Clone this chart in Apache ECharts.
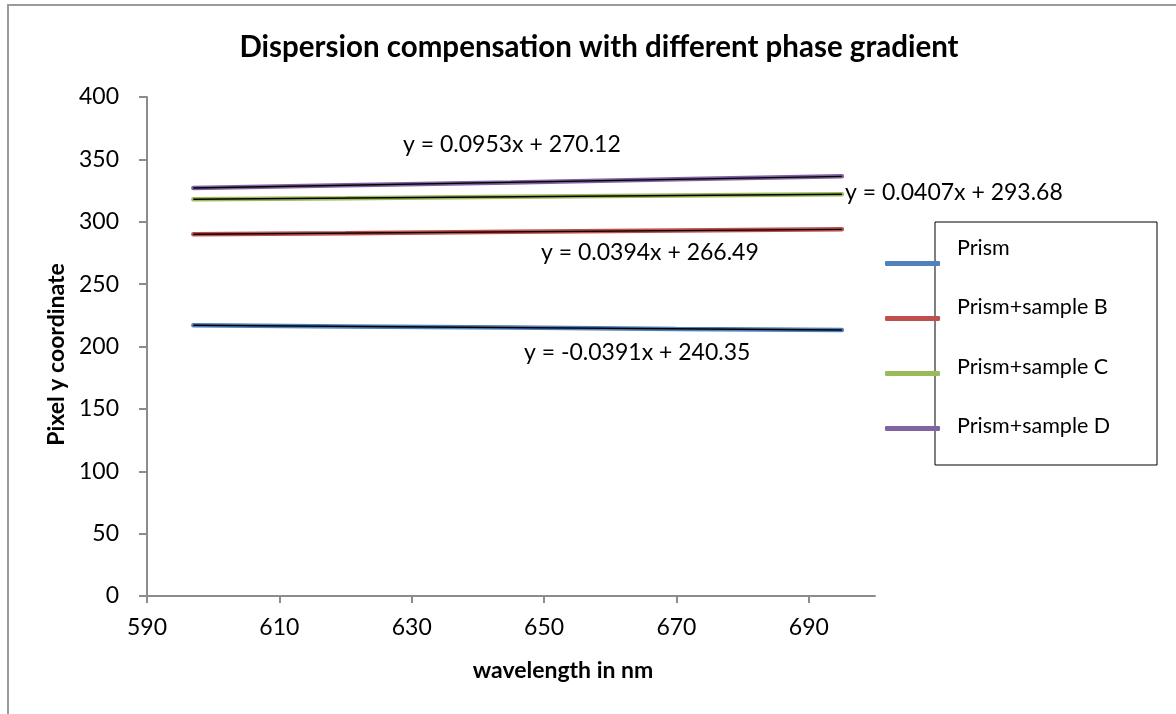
<!DOCTYPE html>
<html>
<head>
<meta charset="utf-8">
<script src="https://cdn.jsdelivr.net/npm/echarts@6/dist/echarts.min.js"></script>
<style>
html,body{margin:0;padding:0;background:#fff;}
#chart{width:1176px;height:714px;}
</style>
</head>
<body>
<div id="chart"></div>
<script>
// ---- data ----
const seriesNames = ['Prism', 'Prism+sample B', 'Prism+sample C', 'Prism+sample D'];
const wavelengths = [597, 620, 645, 670, 695];
const prismVals   = [217.0, 216.1, 215.2, 214.1, 213.2];
const sampleBVals = [290.0, 290.8, 291.9, 292.9, 293.9];
const sampleCVals = [318.0, 318.9, 320.0, 321.0, 322.0];
const sampleDVals = [327.0, 329.3, 331.5, 334.0, 336.4];
const trendX      = [597, 695];
const prismTrend   = [217.0, 213.2];
const sampleBTrend = [290.0, 293.9];
const sampleCTrend = [318.0, 322.0];
const sampleDTrend = [327.0, 336.4];
const equations = ['y = -0.0391x + 240.35', 'y = 0.0394x + 266.49', 'y = 0.0407x + 293.68', 'y = 0.0953x + 270.12'];
const xTicks = [590, 610, 630, 650, 670, 690];
const yTicks = [0, 50, 100, 150, 200, 250, 300, 350, 400];

const FONT = 'Lato, "Open Sans", sans-serif';
const colors = ['#4F81BD', '#C0504D', '#9BBB59', '#8064A2'];
const allVals = [prismVals, sampleBVals, sampleCVals, sampleDVals];
const allTrends = [prismTrend, sampleBTrend, sampleCTrend, sampleDTrend];

const pairs = (xs, ys) => xs.map((x, i) => [x, ys[i]]);

const series = [];
seriesNames.forEach((name, i) => {
  series.push({
    name: name, type: 'line', data: pairs(wavelengths, allVals[i]),
    showSymbol: false, symbol: 'none', smooth: false,
    lineStyle: { color: colors[i], width: 4.5, cap: 'round' },
    itemStyle: { color: colors[i] }, z: 2
  });
});
seriesNames.forEach((name, i) => {
  series.push({
    name: name + ' trend', type: 'line', data: pairs(trendX, allTrends[i]),
    showSymbol: false, symbol: 'none',
    lineStyle: { color: '#000', width: 1.4 }, z: 3, silent: true
  });
});

// equation labels (pixel positions: left, vertical centre)
const eqPos = [[524, 353], [541, 253], [845, 193], [403, 145]];
const graphics = [
  { type: 'rect', shape: { x: 8, y: 5, width: 1300, height: 1000 },
    style: { fill: 'none', stroke: '#9a9a9a', lineWidth: 2 }, silent: true },
  { type: 'rect', shape: { x: 935, y: 222, width: 222, height: 243 },
    style: { fill: 'none', stroke: '#000', lineWidth: 1 }, silent: true, z: 0 }
];
equations.forEach((t, i) => {
  graphics.push({ type: 'text', x: eqPos[i][0], y: eqPos[i][1],
    style: { text: t, font: '23px ' + FONT, fill: '#000', verticalAlign: 'middle', align: 'left' }, z: 10 });
});

const chart = echarts.init(document.getElementById('chart'), null, { renderer: 'canvas' });
chart.setOption({
  animation: false,
  backgroundColor: '#fff',
  title: {
    text: 'Dispersion compensation with different phase gradient',
    left: 594, top: 27, textAlign: 'center',
    textStyle: { fontFamily: FONT, fontWeight: 'bold', fontSize: 29.5, color: '#000' }
  },
  grid: { left: 147, right: 301, top: 97, bottom: 118, containLabel: false },
  xAxis: {
    type: 'value', min: 590, max: 700, interval: 20,
    name: 'wavelength in nm', nameLocation: 'middle', nameGap: 63,
    nameTextStyle: { fontFamily: FONT, fontWeight: 'bold', fontSize: 23, color: '#000', padding: [0, 0, 0, 104] },
    axisLine: { show: true, lineStyle: { color: '#8c8c8c', width: 2 } },
    axisTick: { show: true, length: 7, lineStyle: { color: '#8c8c8c', width: 2 } },
    axisLabel: { fontFamily: FONT, fontSize: 23, color: '#000', margin: 20,
      showMaxLabel: false,
      formatter: v => xTicks.includes(v) ? String(v) : '' },
    splitLine: { show: false }
  },
  yAxis: {
    type: 'value', min: 0, max: 400, interval: 50,
    name: 'Pixel y coordinate', nameLocation: 'middle', nameGap: 76,
    nameTextStyle: { fontFamily: FONT, fontWeight: 'bold', fontSize: 23, color: '#000', padding: [0, 16, 0, 0] },
    axisLine: { show: true, lineStyle: { color: '#8c8c8c', width: 2 } },
    axisTick: { show: true, length: 8, lineStyle: { color: '#8c8c8c', width: 2 } },
    axisLabel: { fontFamily: FONT, fontSize: 23, color: '#000', margin: 28,
      formatter: v => yTicks.includes(v) ? String(v) : '' },
    splitLine: { show: false }
  },
  legend: [
    {
      data: seriesNames.map((n, i) => ({ name: n, icon: 'roundRect', itemStyle: { color: colors[i] } })),
      orient: 'vertical', left: 880, top: 256,
      itemWidth: 55, itemHeight: 5, itemGap: 50,
      formatter: () => '', textStyle: { fontSize: 10, lineHeight: 5 },
      selectedMode: false
    },
    {
      data: seriesNames, orient: 'vertical', left: 946, top: 230,
      itemWidth: 1, itemHeight: 1, itemGap: 33.3, icon: 'rect',
      itemStyle: { opacity: 0 }, lineStyle: { opacity: 0 },
      textStyle: { fontFamily: FONT, fontSize: 21.5, color: '#000', lineHeight: 26 },
      selectedMode: false
    }
  ],
  series: series,
  graphic: graphics
});
</script>
</body>
</html>
